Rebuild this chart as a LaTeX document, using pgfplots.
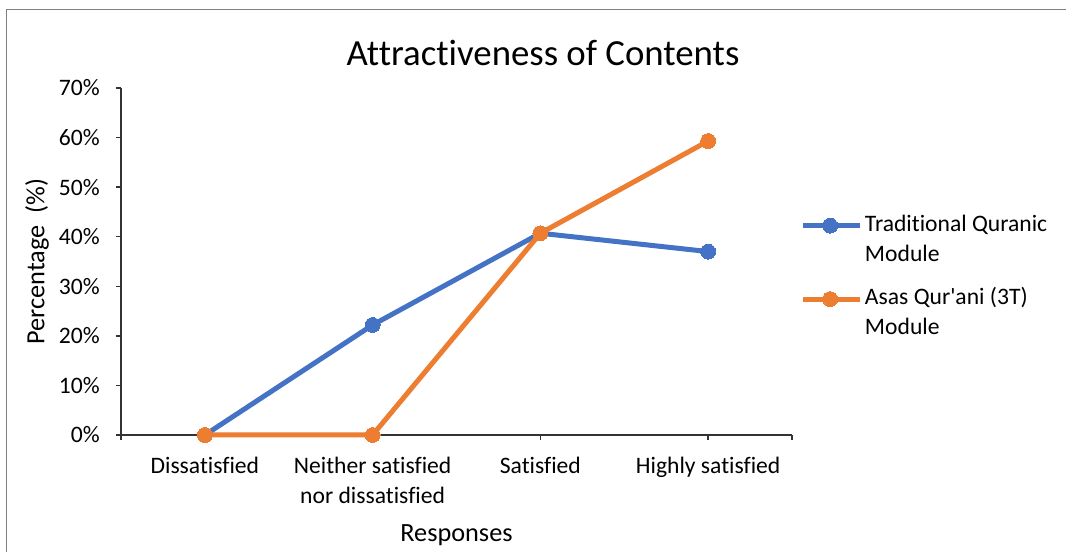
\documentclass[border=0pt]{standalone}
\usepackage{pgfplots}
\pgfplotsset{compat=1.18}
\usepackage{fontspec}
\setmainfont{Carlito}[Ligatures={TeXOff,CommonOff}]

\definecolor{tqblue}{HTML}{4472C4}
\definecolor{aqorange}{HTML}{ED7D31}
\newcommand\tickfont{\fontsize{17.7}{22.5}\selectfont}
\newcommand\labfont{\fontsize{19.7}{24}\selectfont}
\newcommand\titfont{\fontsize{27.6}{33}\selectfont}

\begin{document}
\begin{tikzpicture}
  \useasboundingbox (0,0) rectangle (799.5pt,414pt);
  % chart area frame (only left and top edges fall inside the picture)
  \draw[black!50, line width=0.9pt] (4.9pt,-20pt) -- (4.9pt,406.9pt) -- (830pt,406.9pt);

  \begin{axis}[
    at={(90.75pt,87.75pt)}, anchor=south west,
    scale only axis, width=503.25pt, height=260.25pt,
    xmin=-0.5, xmax=3.5,
    ymin=0, ymax=70,
    axis lines*=left,
    axis line style={black!80, line width=1.1pt},
    tick style={black!80, line width=1.1pt},
    major tick length=3.75pt,
    tick align=outside,
    xtick={0,1,2,3},
    xticklabels={Dissatisfied, {Neither satisfied\\nor dissatisfied}, Satisfied, Highly satisfied},
    extra x ticks={-0.5,3.5},
    extra x tick labels={},
    ytick={0,10,...,70},
    yticklabel={\pgfmathprintnumber{\tick}\%},
    /pgf/number format/assume math mode=true,
    xticklabel style={font=\tickfont, align=center, anchor=north, inner sep=0pt, yshift=-13pt},
    yticklabel style={font=\tickfont, anchor=east, inner sep=0pt, xshift=-12pt},
    xlabel={Responses},
    ylabel={Percentage~~(\%)},
    xlabel style={font=\labfont, at={(axis description cs:0.5,-0.3055)}, anchor=base},
    ylabel style={font=\labfont, at={(axis description cs:-0.1252,0.5)}, anchor=center},
    title={Attractiveness of Contents},
    title style={font=\titfont, at={(axis description cs:0.6289,1.041)}, anchor=base},
    clip=false,
    legend style={at={(axis description cs:1.0134,0.6427)}, anchor=north west,
      draw=none, fill=none, inner sep=0pt, outer sep=0pt,
      row sep=36.7pt, column sep=-0.5pt, font=\tickfont,
      cells={anchor=base west, inner sep=0pt}},
    legend image code/.code={
      \draw[#1, mark repeat=2, mark phase=2] plot coordinates {(0pt,4.1pt) (20pt,4.1pt) (42.75pt,4.1pt)};
    },
  ]

  \addplot[tqblue, line width=3.75pt, mark=*, mark size=5.6pt, mark options={solid, fill=tqblue, draw=tqblue, line width=0pt}]
    coordinates {(0,0) (1,22.2) (2,40.7) (3,37.0)};
  \addlegendentry{\parbox[t]{6cm}{Traditional Quranic\\Module}}

  \addplot[aqorange, line width=3.75pt, mark=*, mark size=5.6pt, mark options={solid, fill=aqorange, draw=aqorange, line width=0pt}]
    coordinates {(0,0) (1,0) (2,40.7) (3,59.3)};
  \addlegendentry{\parbox[t]{6cm}{Asas Qur'ani (3T)\\Module}}

  \end{axis}
\end{tikzpicture}
\end{document}
